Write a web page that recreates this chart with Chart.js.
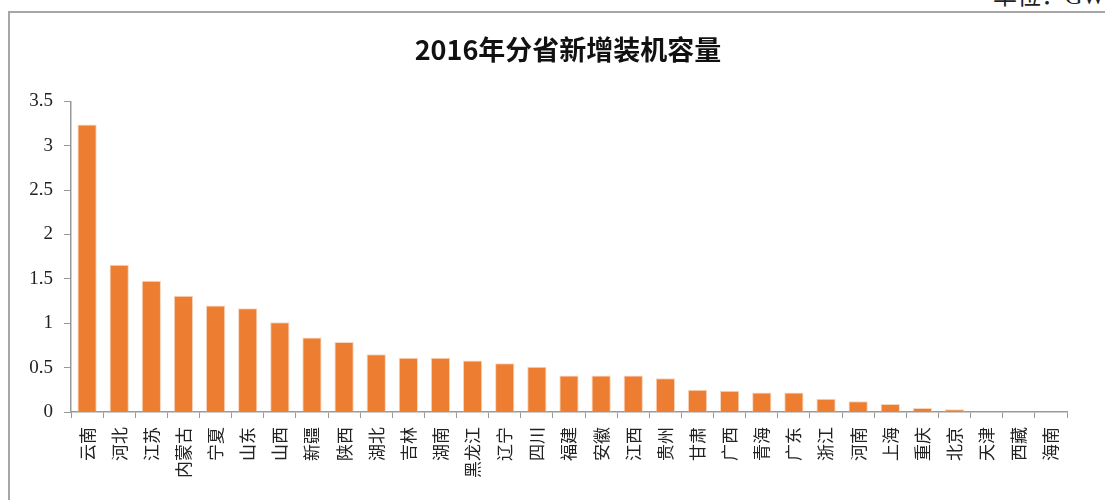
<!DOCTYPE html>
<html>
<head>
    <meta charset="utf-8">
    <title>2016年分省新增装机容量</title>
    <script src="https://cdn.jsdelivr.net/npm/chart.js"></script>
    <style>
        html, body { margin: 0; padding: 0; background: #fff; overflow: hidden; width: 1105px; height: 500px; }
        #unit { position: absolute; left: 993px; top: -16px; font: 24px/24px "Liberation Serif", "Noto Sans CJK SC"; color: #222; white-space: nowrap; }
        #frame { position: absolute; left: 8px; top: 11px; width: 1116px; height: 487px;
                 border-left: 2px solid #a6a6a6; border-top: 2px solid #a6a6a6; }
    </style>
</head>
<body>
    <div id="unit">单位：GW</div>
    <div id="frame"><canvas id="capChart" width="1116" height="487"></canvas></div>

    <script>
        // 省份
        const provinces = ['云南', '河北', '江苏', '内蒙古', '宁夏', '山东', '山西', '新疆', '陕西', '湖北',
                           '吉林', '湖南', '黑龙江', '辽宁', '四川', '福建', '安徽', '江西', '贵州', '甘肃',
                           '广西', '青海', '广东', '浙江', '河南', '上海', '重庆', '北京', '天津', '西藏', '海南'];
        // 新增装机容量 (GW)
        const capacity = [3.24, 1.66, 1.48, 1.31, 1.2, 1.17, 1.01, 0.84, 0.79, 0.65,
                          0.61, 0.61, 0.58, 0.55, 0.51, 0.41, 0.41, 0.41, 0.38, 0.25,
                          0.24, 0.22, 0.22, 0.15, 0.12, 0.09, 0.045, 0.03, 0, 0, 0];
        const yMax = 3.5;
        const yStep = 0.5;

        const ctx = document.getElementById('capChart').getContext('2d');
        new Chart(ctx, {
            type: 'bar',
            data: {
                labels: provinces,
                datasets: [{
                    label: '新增装机容量',
                    data: capacity,
                    backgroundColor: '#ED7D31',
                    borderColor: '#f8d5bd',
                    borderWidth: 1,
                    categoryPercentage: 1,
                    barPercentage: 0.6
                }]
            },
            options: {
                responsive: false,
                animation: false,
                layout: { padding: 0 },
                plugins: {
                    legend: { display: false },
                    tooltip: { enabled: false },
                    title: {
                        display: true,
                        text: '2016年分省新增装机容量',
                        color: '#111',
                        font: { family: '"Noto Sans CJK SC"', size: 27, weight: 'bold' },
                        padding: { top: 21, bottom: 35 }
                    }
                },
                scales: {
                    x: {
                        afterFit: function(scale) { scale.height = 88; },
                        border: { display: true, color: '#999', width: 1.5 },
                        grid: { display: true, drawOnChartArea: false, drawTicks: true, tickLength: 6, color: '#999', offset: true },
                        ticks: {
                            autoSkip: false,
                            minRotation: 90,
                            maxRotation: 90,
                            padding: 9,
                            color: '#222',
                            font: { family: '"Noto Sans CJK SC"', size: 17 }
                        }
                    },
                    y: {
                        min: 0,
                        max: yMax,
                        afterFit: function(scale) { scale.width = 61; },
                        border: { display: true, color: '#999', width: 1.5 },
                        grid: { display: true, drawOnChartArea: false, drawTicks: true, tickLength: 7, color: '#999' },
                        ticks: {
                            stepSize: yStep,
                            padding: 11,
                            color: '#222',
                            font: { family: '"Liberation Serif"', size: 19 },
                            callback: function(value) { return String(value); }
                        }
                    },
                    // 右侧空白 (保持标题居中)
                    ySpace: {
                        position: 'right',
                        min: 0,
                        max: yMax,
                        afterFit: function(scale) { scale.width = 59; },
                        border: { display: false },
                        grid: { display: false },
                        ticks: { display: false }
                    }
                }
            }
        });
    </script>
</body>
</html>
